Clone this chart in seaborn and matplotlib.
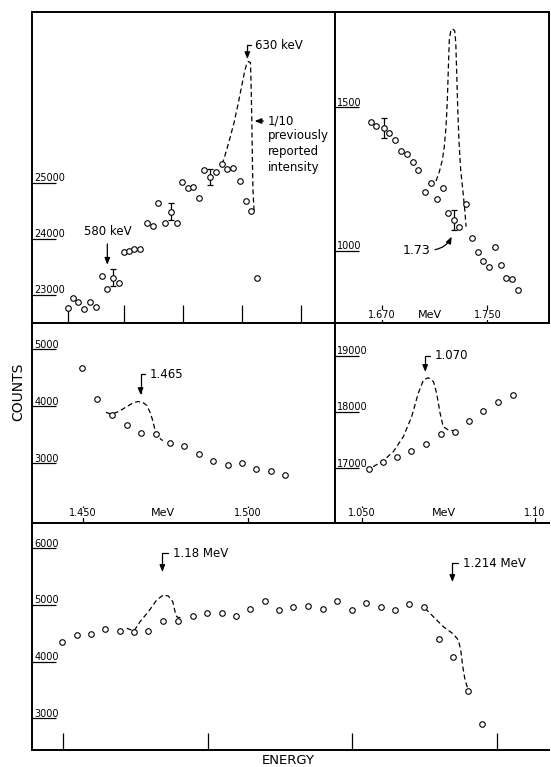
import numpy as np
import pandas as pd
import seaborn as sns
import matplotlib.pyplot as plt

sns.set_theme(style="white", rc={"axes.edgecolor": "black", "axes.linewidth": 1.4,
                                 "xtick.color": "black", "ytick.color": "black",
                                 "text.color": "black"})
plt.rcParams['font.family'] = ['DejaVu Sans']

# --- top left: 580 / 630 keV region (energy in keV, counts)
e_630 = [565.9, 567.6, 569.6, 571.8, 573.8, 575.9, 578.0, 580.0, 582.0, 584.3,
         586.1, 587.9, 589.6, 591.7, 594.1, 596.2, 598.2, 600.6, 602.6, 604.8,
         606.6, 608.7, 610.7, 612.9, 614.5, 616.8, 618.8, 621.0, 622.9, 625.0,
         627.4, 629.5, 631.3, 633.6]
n_630 = [22763, 22952, 22880, 22745, 22880, 22791, 23339, 23102, 23309, 23220,
         23773, 23786, 23816, 23816, 24291, 24232, 24637, 24291, 24488, 24291,
         25023, 24905, 24934, 24727, 25232, 25113, 25191, 25334, 25245, 25263,
         25036, 24684, 24500, 23298]
err_630_idx = [8, 18, 25]
err_630 = [148, 148, 140]
fit_630_e = [621.0, 622.4, 623.8, 625.3, 626.7, 627.9, 629.0, 629.8, 630.4, 631.1,
             631.3, 631.6, 631.8, 632.0, 632.4]
fit_630_n = [25334, 25554, 25804, 26089, 26411, 26714, 26982, 27138, 27170, 27152,
             26839, 26125, 25411, 24875, 24500]

# --- top right: 1.73 MeV region (MeV)
e_173 = [1.6619, 1.6657, 1.6715, 1.6758, 1.6801, 1.6846, 1.6889, 1.6935, 1.6977,
         1.7028, 1.7071, 1.7117, 1.7162, 1.7200, 1.7245, 1.7288, 1.7336, 1.7384,
         1.7427, 1.7470, 1.7515, 1.7558, 1.7602, 1.7642, 1.7685, 1.7735]
n_173 = [1449, 1435, 1427, 1409, 1386, 1348, 1336, 1310, 1281, 1206, 1237, 1179,
         1218, 1130, 1107, 1084, 1163, 1045, 997, 964, 942, 1014, 950, 906, 900, 863]
err_173_idx = [2, 14]
err_173 = [35, 34]
fit_173_e = [1.7111, 1.7136, 1.7159, 1.7174, 1.7187, 1.7197, 1.7205, 1.7212, 1.7223,
             1.7238, 1.7253, 1.7261, 1.7268, 1.7276, 1.7286, 1.7298, 1.7314, 1.7329,
             1.7339]
fit_173_n = [1243, 1275, 1316, 1363, 1432, 1525, 1642, 1735, 1767, 1773, 1766, 1723,
             1619, 1491, 1374, 1281, 1212, 1142, 1084]

# --- middle left: 1.465 MeV region
e_1465 = [1.4497, 1.4541, 1.4586, 1.4632, 1.4674, 1.4720, 1.4763, 1.4806, 1.4852,
          1.4894, 1.4938, 1.4981, 1.5025, 1.5069, 1.5113]
n_1465 = [4677, 4123, 3847, 3672, 3526, 3509, 3351, 3309, 3163, 3040, 2970, 3011,
          2895, 2870, 2800]
fit_1465_e = [1.4569, 1.4586, 1.4606, 1.4632, 1.4651, 1.4666, 1.4681, 1.4693, 1.4704,
              1.4712, 1.4720, 1.4729, 1.4741]
fit_1465_n = [3895, 3860, 3905, 3993, 4058, 4084, 4067, 4014, 3877, 3725, 3526, 3453,
              3397]

# --- middle right: 1.070 MeV region
e_1070 = [1.0521, 1.0562, 1.0603, 1.0643, 1.0685, 1.0728, 1.0770, 1.0810, 1.0851,
          1.0894, 1.0936]
n_1070 = [16982, 17117, 17206, 17313, 17432, 17605, 17646, 17847, 18025, 18185, 18310]
fit_1070_e = [1.0533, 1.0562, 1.0591, 1.0620, 1.0644, 1.0663, 1.0678, 1.0692, 1.0707,
              1.0716, 1.0726, 1.0735, 1.0750, 1.0766]
fit_1070_n = [17028, 17135, 17295, 17562, 17918, 18335, 18571, 18612, 18541, 18335,
              17979, 17740, 17681, 17669]

# --- bottom: 1.18 / 1.214 MeV region
e_118 = [1.16821, 1.16996, 1.17164, 1.17332, 1.17504, 1.17668, 1.17836, 1.18012,
         1.18181, 1.18356, 1.18521, 1.18696, 1.18864, 1.19032, 1.19204, 1.19372,
         1.19536, 1.19712, 1.19880, 1.20052, 1.20220, 1.20388, 1.20560, 1.20728,
         1.20896, 1.21068, 1.21244, 1.21412, 1.21587, 1.21751]
n_118 = [4351, 4469, 4487, 4570, 4545, 4527, 4540, 4716, 4716, 4804, 4862, 4862,
         4804, 4928, 5074, 4910, 4968, 4981, 4922, 5069, 4910, 5028, 4963, 4910,
         5011, 4968, 4404, 4086, 3487, 2899]
fit_118_e = [1.17583, 1.17668, 1.17739, 1.17836, 1.17934, 1.18012, 1.18070, 1.18122,
             1.18149, 1.18169, 1.18196, 1.18246]
fit_118_n = [4587, 4540, 4704, 4880, 5086, 5175, 5157, 5057, 4880, 4792, 4774, 4792]
fit_1214_e = [1.21080, 1.21177, 1.21294, 1.21411, 1.21470, 1.21498, 1.21522, 1.21549,
              1.21580]
fit_1214_n = [4940, 4792, 4616, 4487, 4381, 4205, 3910, 3675, 3529]

W, H = 551, 767
fig = plt.figure(figsize=(W / 100, H / 100), dpi=100)


def panel(l, t, r, b, xlim, ylim, yticks, xticks, ticklen, right=False):
    ax = fig.add_axes([l / W, 1 - b / H, (r - l) / W, (b - t) / H])
    ax.set_yticks(yticks)
    ax.set_yticklabels([])
    ax.set_xticks(xticks)
    ax.set_xticklabels([])
    ax.tick_params(axis="y", left=True, direction="in", length=17, width=0.9)
    ax.tick_params(axis="x", bottom=True, direction="in", length=ticklen, width=0.9)
    ax.spines["right"].set_visible(right)
    for v in yticks:
        ax.annotate(str(v), xy=(0, v), xycoords=("axes fraction", "data"),
                    xytext=(1.5, 1.2), textcoords="offset points",
                    fontsize=7, ha="left", va="baseline")
    return ax


def finish(ax, xlim, ylim):
    ax.set_xlim(xlim)
    ax.set_ylim(ylim)
    ax.set(xlabel="", ylabel="")


def points(ax, x, y):
    sns.scatterplot(x=x, y=y, ax=ax, marker="o", s=16, color="white",
                    edgecolor="black", linewidth=0.8, zorder=4)


def dashed(ax, x, y):
    sns.lineplot(x=x, y=y, ax=ax, sort=False, estimator=None, color="black",
                 lw=0.9, linestyle=(0, (4, 2.5)), zorder=3)


def errbars(ax, x, y, idx, err):
    ax.errorbar([x[i] for i in idx], [y[i] for i in idx], yerr=err, fmt="none",
                ecolor="black", elinewidth=0.9, capsize=2.2, capthick=0.9, zorder=3)


def bracket(ax, text, tip, textpos):
    ax.annotate(text, xy=tip, xytext=textpos, fontsize=8.5, ha="left", va="center",
                arrowprops=dict(arrowstyle="-|>,head_length=0.5,head_width=0.2",
                                mutation_scale=8, color="black", lw=0.9,
                                connectionstyle="angle,angleA=0,angleB=90,rad=0",
                                relpos=(0, 0.5), shrinkA=1, shrinkB=0))


def xlabels(ax, ticks, labels, mev_x, off):
    for v, s in zip(ticks, labels):
        ax.annotate(s, xy=(v, 0), xycoords=("data", "axes fraction"),
                    xytext=(0, off), textcoords="offset points", fontsize=7,
                    ha="center", va="center", zorder=5,
                    bbox=dict(fc="white", ec="none", pad=0.2))
    ax.annotate("MeV", xy=(mev_x, 0), xycoords=("data", "axes fraction"),
                xytext=(0, off), textcoords="offset points", fontsize=8,
                ha="center", va="center")


# top left
xa, ya = (553.1, 661.3), (22500, 28054)
ax = panel(32, 12, 335, 323, xa, ya, [23000, 24000, 25000],
           [566, 586, 607, 628, 649], 13)
dashed(ax, fit_630_e, fit_630_n)
errbars(ax, e_630, n_630, err_630_idx, err_630)
points(ax, e_630, n_630)
bracket(ax, "630 keV", (630.0, 27214), (632.8, 27464))
ax.annotate("580 keV", xy=(580.0, 23540), xytext=(580.0, 24020), fontsize=8.5,
            ha="center", va="bottom",
            arrowprops=dict(arrowstyle="-|>,head_length=0.5,head_width=0.2",
                            mutation_scale=8, color="black", lw=0.9,
                            shrinkA=2, shrinkB=0))
ax.annotate("1/10", xy=(632.6, 26107), xytext=(637.4, 26107), fontsize=8.5,
            ha="left", va="center",
            arrowprops=dict(arrowstyle="-|>,head_length=0.5,head_width=0.2",
                            mutation_scale=8, color="black", lw=0.9,
                            relpos=(0, 0.5), shrinkA=1, shrinkB=0))
ax.text(637.3, 25559, "previously\nreported\nintensity", fontsize=8.5,
        ha="left", va="center", linespacing=1.3)
finish(ax, xa, ya)

# top right
xb, yb = (1.6346, 1.7967), (748, 1832)
ax = panel(335, 12, 549, 323, xb, yb, [1000, 1500], [1.670, 1.750], 13, right=True)
dashed(ax, fit_173_e, fit_173_n)
errbars(ax, e_173, n_173, err_173_idx, err_173)
points(ax, e_173, n_173)
ax.annotate("1.73", xy=(1.7230, 1049), xytext=(1.6858, 1002), fontsize=9,
            ha="left", va="center",
            arrowprops=dict(arrowstyle="-|>,head_length=0.5,head_width=0.2",
                            mutation_scale=8, color="black", lw=0.9,
                            connectionstyle="arc3,rad=0.3",
                            relpos=(1, 0.5), shrinkA=1, shrinkB=0))
xlabels(ax, [1.670, 1.750], ["1.670", "1.750"], 1.7062, 5.8)
finish(ax, xb, yb)

# middle left
xc, yc = (1.4345, 1.5263), (1953, 5461)
ax = panel(32, 323, 335, 523, xc, yc, [3000, 4000, 5000], [1.450, 1.500], 12)
dashed(ax, fit_1465_e, fit_1465_n)
points(ax, e_1465, n_1465)
bracket(ax, "1.465", (1.4674, 4198), (1.4702, 4561))
xlabels(ax, [1.450, 1.500], ["1.450", "1.500"], 1.4741, 7.2)
finish(ax, xc, yc)

# middle right
xd, yd = (1.0423, 1.1040), (16027, 19585)
ax = panel(335, 323, 549, 523, xd, yd, [17000, 18000, 19000], [1.050, 1.10], 12)
dashed(ax, fit_1070_e, fit_1070_n)
points(ax, e_1070, n_1070)
bracket(ax, "1.070", (1.0683, 18714), (1.0711, 19000))
xlabels(ax, [1.050, 1.10], ["1.050", "1.10"], 1.0736, 7.2)
finish(ax, xd, yd)

# bottom
xe, ye = (1.16472, 1.22533), (2441, 6444)
ax = panel(32, 523, 549, 750, xe, ye, [3000, 4000, 5000, 6000],
           [1.1683, 1.1854, 1.2022, 1.2192], 12)
dashed(ax, fit_118_e, fit_118_n)
dashed(ax, fit_1214_e, fit_1214_n)
points(ax, e_118, n_118)
bracket(ax, "1.18 MeV", (1.18, 5581), (1.18122, 5910))
bracket(ax, "1.214 MeV", (1.21400, 5404), (1.21522, 5734))
finish(ax, xe, ye)

fig.text(18 / W, 1 - 392 / H, "COUNTS", rotation=90, ha="center", va="center",
         fontsize=10)
fig.text(288 / W, 1 - 761 / H, "ENERGY", ha="center", va="center", fontsize=9.5)

fig.savefig("out.png", dpi=100)
